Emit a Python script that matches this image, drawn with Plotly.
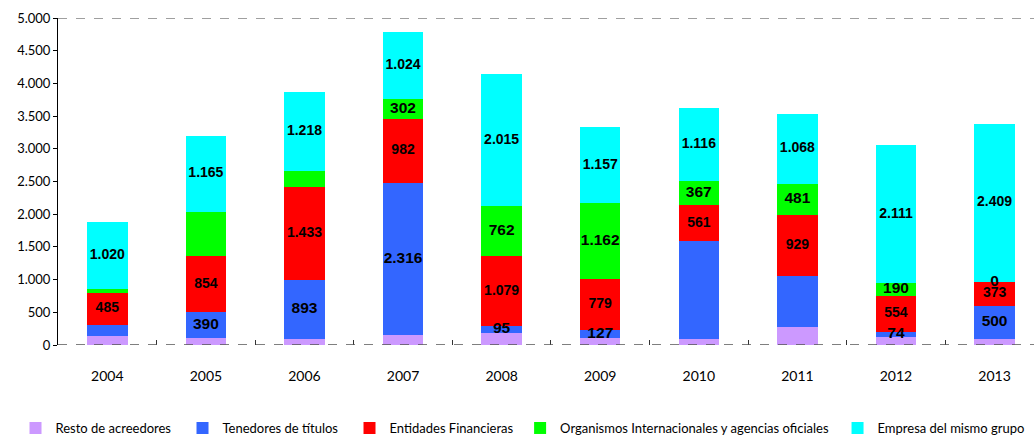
import plotly.graph_objects as go

# years on the x axis
years = ['2004', '2005', '2006', '2007', '2008', '2009', '2010', '2011', '2012', '2013']

# stacked series (bottom to top)
resto = [140, 110, 96, 160, 190, 105, 86, 280, 127, 96]
tenedores = [170, 390, 893, 2316, 95, 127, 1498, 775, 74, 500]
entidades = [485, 854, 1433, 982, 1079, 779, 561, 929, 554, 373]
organismos = [60, 680, 235, 302, 762, 1162, 367, 481, 190, 0]
empresa = [1020, 1165, 1218, 1024, 2015, 1157, 1116, 1068, 2111, 2409]

# which segments carry a value label
resto_lbl = [False] * 10
tenedores_lbl = [False, True, True, True, True, True, False, False, True, True]
entidades_lbl = [True] * 10
organismos_lbl = [False, False, False, True, True, True, True, True, True, True]
empresa_lbl = [True] * 10

series = [
    ('Resto de acreedores', resto, resto_lbl, '#CC99FF', 14, 'legend'),
    ('Tenedores de títulos', tenedores, tenedores_lbl, '#3366FF', 15.5, 'legend'),
    ('Entidades Financieras', entidades, entidades_lbl, '#FF0000', 14, 'legend'),
    ('Organismos Internacionales y agencias oficiales', organismos, organismos_lbl, '#00FF00', 15.5, 'legend3'),
    ('Empresa del mismo grupo', empresa, empresa_lbl, '#00FFFF', 14, 'legend2'),
]


def fmt(v):
    return f"{v:,}".replace(",", ".")


fig = go.Figure()
base = [0] * len(years)
label_x, label_y, label_t, label_s = [], [], [], []
for name, vals, lbl, col, fs, leg in series:
    fig.add_trace(go.Bar(
        x=years, y=vals, name=name, marker=dict(color=col, line=dict(width=0)),
        width=0.41, legend=leg,
    ))
    for j, v in enumerate(vals):
        if lbl[j]:
            label_x.append(years[j])
            label_y.append(base[j] + v / 2)
            label_t.append(fmt(v))
            label_s.append(fs)
    base = [b + v for b, v in zip(base, vals)]

fig.add_trace(go.Scatter(
    x=label_x, y=label_y, text=label_t, mode='text', showlegend=False,
    textposition='middle center', hoverinfo='skip',
    textfont=dict(family='Liberation Sans, Arial', size=label_s, color='black', weight='bold'),
))

leg_style = dict(orientation='h', xref='container', yref='container', y=0.0183,
                 yanchor='middle', xanchor='left', font=dict(size=13), itemwidth=30,
                 bgcolor='rgba(0,0,0,0)')

fig.update_layout(
    barmode='stack',
    width=1034, height=436,
    margin=dict(l=58, r=0, t=18, b=91),
    plot_bgcolor='white', paper_bgcolor='white',
    separators=',.',
    font=dict(family='Lato', color='black'),
    legend=dict(leg_style, x=0.015, entrywidth=122, traceorder='normal'),
    legend3=dict(leg_style, x=0.503),
    legend2=dict(leg_style, x=0.81),
    xaxis=dict(range=[-0.5, 9.40], showline=False, zeroline=False, showgrid=False,
               ticks='inside', tickson='boundaries', ticklen=5, tickcolor='#333',
               tickfont=dict(size=14), ticklabelstandoff=21),
    yaxis=dict(range=[0, 5000], dtick=500, tickformat=',d', showgrid=False, zeroline=False,
               showline=True, linecolor='black', linewidth=1, ticks='outside', ticklen=4,
               tickcolor='black', tickfont=dict(size=13)),
    shapes=[
        dict(type='line', xref='paper', yref='y', x0=0, x1=1, y0=5000, y1=5000,
             line=dict(color='#808080', width=1.5, dash='dash')),
        dict(type='line', xref='paper', yref='y', x0=0, x1=1, y0=0, y1=0,
             line=dict(color='#555555', width=1.5, dash='dash')),
    ],
)

# page margin off so the 1034x436 figure fills the window exactly
fig.write_html("out.html", config={'displayModeBar': False},
               post_script="document.body.style.margin='0';")
